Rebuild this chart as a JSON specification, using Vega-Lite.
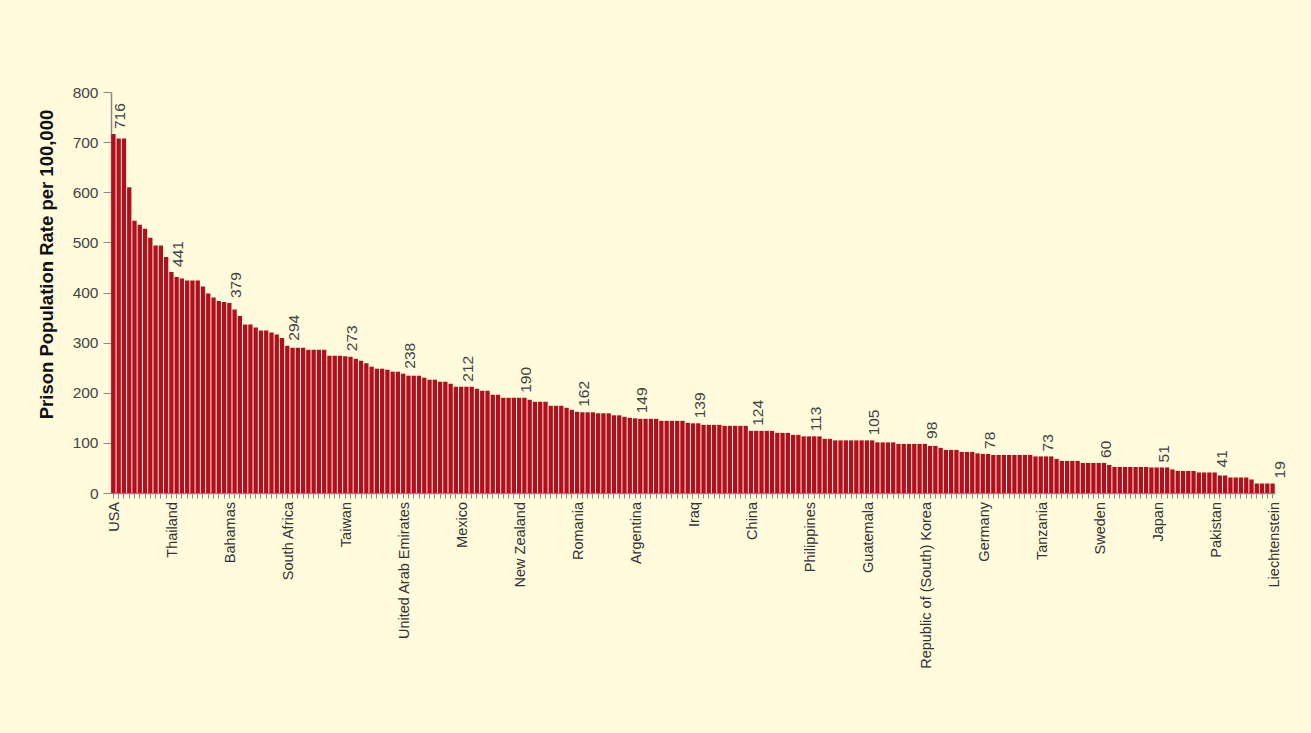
{
  "$schema": "https://vega.github.io/schema/vega-lite/v6.json",
  "width": 1164,
  "height": 401,
  "autosize": {"type": "none"},
  "padding": {"left": 111, "top": 92, "right": 36, "bottom": 240},
  "background": "#FFFBDC",
  "config": {"view": {"stroke": null}, "font": "Liberation Sans, Arial, sans-serif"},
  "data": {"values": [
    {"rank":1,"rate":716,"country":"USA"},{"rank":2,"rate":707},{"rank":3,"rate":707},{"rank":4,"rate":610},{"rank":5,"rate":543},{"rank":6,"rate":535},{"rank":7,"rate":527},{"rank":8,"rate":509},{"rank":9,"rate":494},{"rank":10,"rate":494},{"rank":11,"rate":471},
    {"rank":12,"rate":441,"country":"Thailand"},{"rank":13,"rate":431},{"rank":14,"rate":428},{"rank":15,"rate":424},{"rank":16,"rate":424},{"rank":17,"rate":424},{"rank":18,"rate":412},{"rank":19,"rate":398},{"rank":20,"rate":390},{"rank":21,"rate":383},{"rank":22,"rate":381},
    {"rank":23,"rate":379,"country":"Bahamas"},{"rank":24,"rate":366},{"rank":25,"rate":353},{"rank":26,"rate":336},{"rank":27,"rate":336},{"rank":28,"rate":330},{"rank":29,"rate":324},{"rank":30,"rate":324},{"rank":31,"rate":320},{"rank":32,"rate":316},{"rank":33,"rate":309},
    {"rank":34,"rate":294,"country":"South Africa"},{"rank":35,"rate":290},{"rank":36,"rate":290},{"rank":37,"rate":290},{"rank":38,"rate":286},{"rank":39,"rate":286},{"rank":40,"rate":286},{"rank":41,"rate":286},{"rank":42,"rate":274},{"rank":43,"rate":274},{"rank":44,"rate":274},
    {"rank":45,"rate":273,"country":"Taiwan"},{"rank":46,"rate":272},{"rank":47,"rate":268},{"rank":48,"rate":264},{"rank":49,"rate":259},{"rank":50,"rate":252},{"rank":51,"rate":248},{"rank":52,"rate":248},{"rank":53,"rate":246},{"rank":54,"rate":242},{"rank":55,"rate":242},
    {"rank":56,"rate":238,"country":"United Arab Emirates"},{"rank":57,"rate":234},{"rank":58,"rate":234},{"rank":59,"rate":234},{"rank":60,"rate":230},{"rank":61,"rate":226},{"rank":62,"rate":226},{"rank":63,"rate":222},{"rank":64,"rate":222},{"rank":65,"rate":218},{"rank":66,"rate":212},
    {"rank":67,"rate":212,"country":"Mexico"},{"rank":68,"rate":212},{"rank":69,"rate":212},{"rank":70,"rate":208},{"rank":71,"rate":204},{"rank":72,"rate":204},{"rank":73,"rate":196},{"rank":74,"rate":196},{"rank":75,"rate":190},{"rank":76,"rate":190},{"rank":77,"rate":190},
    {"rank":78,"rate":190,"country":"New Zealand"},{"rank":79,"rate":190},{"rank":80,"rate":186},{"rank":81,"rate":182},{"rank":82,"rate":182},{"rank":83,"rate":182},{"rank":84,"rate":174},{"rank":85,"rate":174},{"rank":86,"rate":174},{"rank":87,"rate":170},{"rank":88,"rate":166},
    {"rank":89,"rate":162,"country":"Romania"},{"rank":90,"rate":161},{"rank":91,"rate":161},{"rank":92,"rate":161},{"rank":93,"rate":159},{"rank":94,"rate":159},{"rank":95,"rate":159},{"rank":96,"rate":155},{"rank":97,"rate":155},{"rank":98,"rate":152},{"rank":99,"rate":150},
    {"rank":100,"rate":149,"country":"Argentina"},{"rank":101,"rate":148},{"rank":102,"rate":148},{"rank":103,"rate":148},{"rank":104,"rate":148},{"rank":105,"rate":144},{"rank":106,"rate":144},{"rank":107,"rate":144},{"rank":108,"rate":144},{"rank":109,"rate":144},{"rank":110,"rate":140},
    {"rank":111,"rate":139,"country":"Iraq"},{"rank":112,"rate":139},{"rank":113,"rate":136},{"rank":114,"rate":136},{"rank":115,"rate":136},{"rank":116,"rate":136},{"rank":117,"rate":134},{"rank":118,"rate":134},{"rank":119,"rate":134},{"rank":120,"rate":134},{"rank":121,"rate":134},
    {"rank":122,"rate":124,"country":"China"},{"rank":123,"rate":124},{"rank":124,"rate":124},{"rank":125,"rate":124},{"rank":126,"rate":124},{"rank":127,"rate":120},{"rank":128,"rate":120},{"rank":129,"rate":120},{"rank":130,"rate":116},{"rank":131,"rate":116},{"rank":132,"rate":113},
    {"rank":133,"rate":113,"country":"Philippines"},{"rank":134,"rate":113},{"rank":135,"rate":113},{"rank":136,"rate":108},{"rank":137,"rate":108},{"rank":138,"rate":105},{"rank":139,"rate":105},{"rank":140,"rate":105},{"rank":141,"rate":105},{"rank":142,"rate":105},{"rank":143,"rate":105},
    {"rank":144,"rate":105,"country":"Guatemala"},{"rank":145,"rate":105},{"rank":146,"rate":101},{"rank":147,"rate":101},{"rank":148,"rate":101},{"rank":149,"rate":101},{"rank":150,"rate":98},{"rank":151,"rate":98},{"rank":152,"rate":98},{"rank":153,"rate":98},{"rank":154,"rate":98},
    {"rank":155,"rate":98,"country":"Republic of (South) Korea"},{"rank":156,"rate":94},{"rank":157,"rate":94},{"rank":158,"rate":90},{"rank":159,"rate":86},{"rank":160,"rate":86},{"rank":161,"rate":86},{"rank":162,"rate":82},{"rank":163,"rate":82},{"rank":164,"rate":82},{"rank":165,"rate":79},
    {"rank":166,"rate":78,"country":"Germany"},{"rank":167,"rate":78},{"rank":168,"rate":76},{"rank":169,"rate":76},{"rank":170,"rate":76},{"rank":171,"rate":76},{"rank":172,"rate":76},{"rank":173,"rate":76},{"rank":174,"rate":76},{"rank":175,"rate":76},{"rank":176,"rate":73},
    {"rank":177,"rate":73,"country":"Tanzania"},{"rank":178,"rate":73},{"rank":179,"rate":73},{"rank":180,"rate":68},{"rank":181,"rate":64},{"rank":182,"rate":64},{"rank":183,"rate":64},{"rank":184,"rate":64},{"rank":185,"rate":60},{"rank":186,"rate":60},{"rank":187,"rate":60},
    {"rank":188,"rate":60,"country":"Sweden"},{"rank":189,"rate":60},{"rank":190,"rate":56},{"rank":191,"rate":52},{"rank":192,"rate":52},{"rank":193,"rate":52},{"rank":194,"rate":52},{"rank":195,"rate":52},{"rank":196,"rate":52},{"rank":197,"rate":52},{"rank":198,"rate":51},
    {"rank":199,"rate":51,"country":"Japan"},{"rank":200,"rate":51},{"rank":201,"rate":51},{"rank":202,"rate":47},{"rank":203,"rate":44},{"rank":204,"rate":44},{"rank":205,"rate":44},{"rank":206,"rate":44},{"rank":207,"rate":41},{"rank":208,"rate":41},{"rank":209,"rate":41},
    {"rank":210,"rate":41,"country":"Pakistan"},{"rank":211,"rate":35},{"rank":212,"rate":35},{"rank":213,"rate":31},{"rank":214,"rate":31},{"rank":215,"rate":31},{"rank":216,"rate":31},{"rank":217,"rate":27},{"rank":218,"rate":19},{"rank":219,"rate":19},{"rank":220,"rate":19},
    {"rank":221,"rate":19,"country":"Liechtenstein"}
  ]},
  "encoding": {
    "x": {
      "field": "rank", "type": "ordinal", "sort": "ascending",
      "scale": {"paddingInner": 0.18, "paddingOuter": 0.05},
      "axis": {"labels": false, "title": null, "ticks": true, "tickSize": 5, "tickColor": "#888888", "domainColor": "#888888", "domainWidth": 1.5}
    }
  },
  "layer": [
    {
      "mark": {"type": "bar", "color": "#B0101E"},
      "encoding": {
        "y": {
          "field": "rate", "type": "quantitative",
          "scale": {"domain": [0, 800]},
          "axis": {
            "values": [0, 100, 200, 300, 400, 500, 600, 700, 800],
            "title": "Prison Population Rate per 100,000",
            "titleFontWeight": "bold", "titleFontSize": 18.5, "titleColor": "#111111",
            "titlePadding": 16, "titleY": 172,
            "labelFontSize": 15.5, "labelColor": "#444444", "labelPadding": 5,
            "grid": false, "tickSize": 8, "tickColor": "#888888", "domainColor": "#888888", "domainWidth": 1.5
          }
        }
      }
    },
    {
      "transform": [{"filter": "isValid(datum.country)"}],
      "mark": {"type": "text", "angle": 270, "align": "left", "baseline": "middle", "dx": 5, "dy": 7, "fontSize": 15.5, "color": "#444444"},
      "encoding": {
        "y": {"field": "rate", "type": "quantitative"},
        "text": {"field": "rate", "type": "quantitative"}
      }
    },
    {
      "transform": [{"filter": "isValid(datum.country)"}],
      "mark": {"type": "text", "angle": 270, "align": "right", "baseline": "middle", "dx": -9, "dy": 2, "fontSize": 14.5, "color": "#333333"},
      "encoding": {
        "y": {"datum": 0, "type": "quantitative"},
        "text": {"field": "country", "type": "nominal"}
      }
    }
  ]
}
